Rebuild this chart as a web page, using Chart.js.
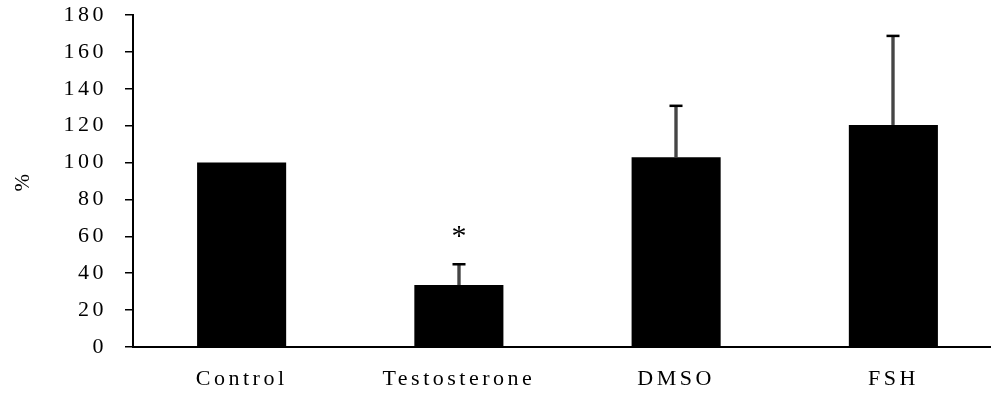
<!DOCTYPE html>
<html>
<head>
<meta charset="utf-8">
<script src="https://cdn.jsdelivr.net/npm/chart.js@4/dist/chart.umd.min.js"></script>
<style>
  html, body { margin: 0; padding: 0; background: #fff; overflow: hidden; }
  #wrap { width: 991px; height: 393px; overflow: hidden; }
</style>
</head>
<body>
<div id="wrap"><canvas id="barChart" width="1002" height="393"></canvas></div>
<script>
const groups = ['Control', 'Testosterone', 'DMSO', 'FSH'];
const means = [100, 33.6, 102.9, 120.4];
const errors = [0, 11.4, 28, 48.4];
const marks = ['', '*', '', ''];
const yTicks = [0, 20, 40, 60, 80, 100, 120, 140, 160, 180];

const serif = '"Liberation Serif", "Times New Roman", serif';

// upward-only error bars plus significance marks
const errorBars = {
    id: 'errorBars',
    beforeDraw(chart) {
        chart.ctx.letterSpacing = '3.5px';
    },
    afterDatasetsDraw(chart) {
        const ctx = chart.ctx;
        const y = chart.scales.y;
        const meta = chart.getDatasetMeta(0);
        ctx.save();
        meta.data.forEach((bar, i) => {
            const x = Math.round(bar.x);
            const yBar = y.getPixelForValue(means[i]);
            if (errors[i] > 0) {
                const yTop = y.getPixelForValue(means[i] + errors[i]);
                ctx.fillStyle = '#000';
                ctx.fillRect(x - 1.5, yTop, 3, yBar - yTop);
                ctx.fillStyle = '#8a8a8a';
                ctx.fillRect(x - 0.5, yTop + 1, 1, yBar - yTop - 1);
                ctx.fillStyle = '#000';
                ctx.fillRect(x - 6.5, yTop - 1, 13, 2.5);
            }
            if (marks[i]) {
                const yTop = y.getPixelForValue(means[i] + errors[i]);
                ctx.font = '30px ' + serif;
                ctx.letterSpacing = '0px';
                ctx.textAlign = 'center';
                ctx.textBaseline = 'middle';
                ctx.fillStyle = '#000';
                ctx.fillText(marks[i], x, yTop - 27);
            }
        });
        ctx.restore();
    }
};

new Chart(document.getElementById('barChart'), {
    type: 'bar',
    data: {
        labels: groups,
        datasets: [{
            data: means,
            backgroundColor: '#000',
            borderWidth: 0,
            barPercentage: 0.41,
            categoryPercentage: 1
        }]
    },
    options: {
        responsive: false,
        animation: false,
        events: [],
        layout: { padding: { top: 15, left: 0, right: 0, bottom: 0 } },
        plugins: {
            legend: { display: false },
            tooltip: { enabled: false }
        },
        scales: {
            x: {
                grid: { display: false },
                border: { display: true, color: '#000', width: 2 },
                ticks: {
                    color: '#000',
                    font: { family: serif, size: 22 },
                    padding: 11,
                    maxRotation: 0,
                    autoSkip: false
                },
                afterFit(scale) {
                    scale.height = 46;
                    scale.paddingLeft = 0;
                    scale.paddingRight = 0;
                }
            },
            y: {
                min: 0,
                max: 180,
                afterBuildTicks(scale) {
                    scale.ticks = yTicks.map(v => ({ value: v }));
                },
                grid: {
                    drawOnChartArea: false,
                    drawTicks: true,
                    tickLength: 8,
                    color: '#000',
                    lineWidth: 1.5
                },
                border: { display: true, color: '#000', width: 2 },
                ticks: {
                    color: '#000',
                    font: { family: serif, size: 22 },
                    padding: 18
                },
                title: {
                    display: true,
                    text: '%',
                    color: '#000',
                    font: { family: serif, size: 21 },
                    padding: { top: 11, bottom: 0 }
                },
                afterFit(scale) {
                    scale.width = 133;
                    scale.paddingTop = 0;
                    scale.paddingBottom = 0;
                }
            }
        }
    },
    plugins: [errorBars]
});
</script>
</body>
</html>
